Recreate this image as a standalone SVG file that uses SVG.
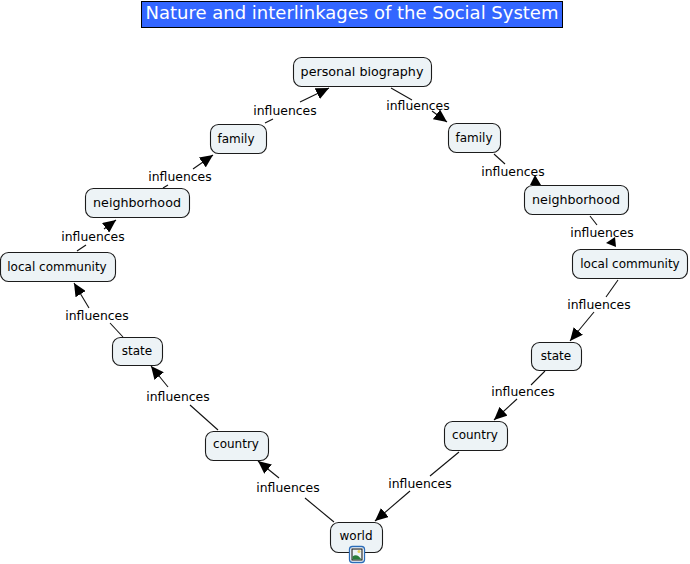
<svg xmlns="http://www.w3.org/2000/svg" width="690" height="564" viewBox="0 0 690 564">
<style>
text{font-family:"DejaVu Sans",sans-serif;fill:#000;text-anchor:middle}
.n rect{fill:#edf3f6;stroke:#1c1c1c;stroke-width:1.1}
.n text{font-size:12px}
.n text.w{font-size:12.7px}
.l{font-size:12.4px}
#connectors line{stroke:#111;stroke-width:1.1}
line.a{marker-end:url(#arrow)}
</style>
<defs>
<marker id="arrow" markerUnits="userSpaceOnUse" markerWidth="14" markerHeight="12" refX="13" refY="6" orient="auto"><path d="M0 0L13 6L0 12Z" fill="#000"/></marker>
</defs>
<rect width="690" height="564" fill="#fff"/>
<g id="title"><rect x="141.500" y="1.500" width="421" height="26" fill="#3366ff" stroke="#000"/><text x="352" y="19" font-size="18" style="fill:#fff">Nature and interlinkages of the Social System</text></g>
<g id="connectors">
<line x1="391" y1="88" x2="412" y2="100"/><line class="a" x1="432" y1="111" x2="447" y2="122"/>
<line x1="494" y1="154" x2="505" y2="164"/><polygon points="530,185 535,175 541,185" fill="#000"/>
<line x1="590" y1="216" x2="597" y2="225"/><polygon points="606,243 615,237 616,247" fill="#000"/>
<line x1="618" y1="280" x2="606" y2="297"/><line class="a" x1="594" y1="312" x2="570" y2="341"/>
<line x1="545" y1="371" x2="531" y2="385"/><line class="a" x1="517" y1="399" x2="494" y2="420"/>
<line x1="459" y1="452" x2="430" y2="476"/><line class="a" x1="410" y1="491" x2="375" y2="521"/>
<line x1="334" y1="522" x2="305" y2="498"/><line class="a" x1="279" y1="478" x2="258" y2="461"/>
<line x1="218" y1="430" x2="190" y2="405"/><line class="a" x1="168" y1="387" x2="151" y2="366"/>
<line x1="123" y1="337" x2="110" y2="323"/><line class="a" x1="89" y1="308" x2="74" y2="283"/>
<line x1="77" y1="251" x2="86" y2="245"/><line class="a" x1="104" y1="229" x2="116" y2="220"/>
<line x1="163" y1="188" x2="168" y2="185"/><line class="a" x1="193" y1="169" x2="213" y2="155"/>
<line x1="265" y1="123" x2="273" y2="119"/><line class="a" x1="300" y1="102" x2="329" y2="88"/>
</g>
<g id="labels">
<text class="l" x="418" y="110">influences</text>
<text class="l" x="513" y="176">influences</text>
<text class="l" x="602" y="237">influences</text>
<text class="l" x="599" y="309">influences</text>
<text class="l" x="523" y="396">influences</text>
<text class="l" x="420" y="488">influences</text>
<text class="l" x="288" y="492">influences</text>
<text class="l" x="178" y="401">influences</text>
<text class="l" x="97" y="320">influences</text>
<text class="l" x="93" y="241">influences</text>
<text class="l" x="180" y="181">influences</text>
<text class="l" x="285" y="115">influences</text>
</g>
<g id="n1" class="n"><rect x="293.500" y="57.500" width="138" height="29" rx="8"/><text class="w" x="362" y="76">personal biography</text></g>
<g id="n2" class="n"><rect x="448.500" y="123.500" width="52" height="29" rx="8"/><text x="474" y="142">family</text></g>
<g id="n3" class="n"><rect x="524.500" y="185.500" width="104" height="29" rx="8"/><text class="w" x="576" y="204">neighborhood</text></g>
<g id="n4" class="n"><rect x="572.500" y="249.500" width="115" height="29" rx="8"/><text x="630" y="268">local community</text></g>
<g id="n5" class="n"><rect x="531.500" y="342.500" width="50" height="28" rx="8"/><text x="556" y="360">state</text></g>
<g id="n6" class="n"><rect x="444.500" y="421.500" width="63" height="29" rx="8"/><text x="475" y="439">country</text></g>
<g id="n7" class="n"><rect x="330.500" y="522.500" width="52" height="30" rx="8"/><text x="356" y="540">world</text>
<rect x="349.500" y="546.500" width="15" height="16" rx="3" style="fill:#fff;stroke:#2b6cb8;stroke-width:1.300"/><rect x="352" y="549" width="10" height="11" fill="#b5d4ea" stroke="#1c3d66" stroke-width="0.800"/><circle cx="359" cy="551.500" r="1.500" fill="#e8d25a"/><path d="M352.500 559.500L352.500 556.500Q357 553 361.500 559.500Z" fill="#2a7d3a"/></g>
<g id="n8" class="n"><rect x="205.500" y="431.500" width="63" height="29" rx="8"/><text x="236" y="448">country</text></g>
<g id="n9" class="n"><rect x="112.500" y="337.500" width="50" height="28" rx="8"/><text x="137" y="355">state</text></g>
<g id="n10" class="n"><rect x="0.500" y="252.500" width="115" height="29" rx="8"/><text x="57" y="271">local community</text></g>
<g id="n11" class="n"><rect x="85.500" y="188.500" width="104" height="29" rx="8"/><text class="w" x="137" y="207">neighborhood</text></g>
<g id="n12" class="n"><rect x="210.500" y="124.500" width="56" height="29" rx="8"/><text x="236" y="143">family</text></g>
</svg>
